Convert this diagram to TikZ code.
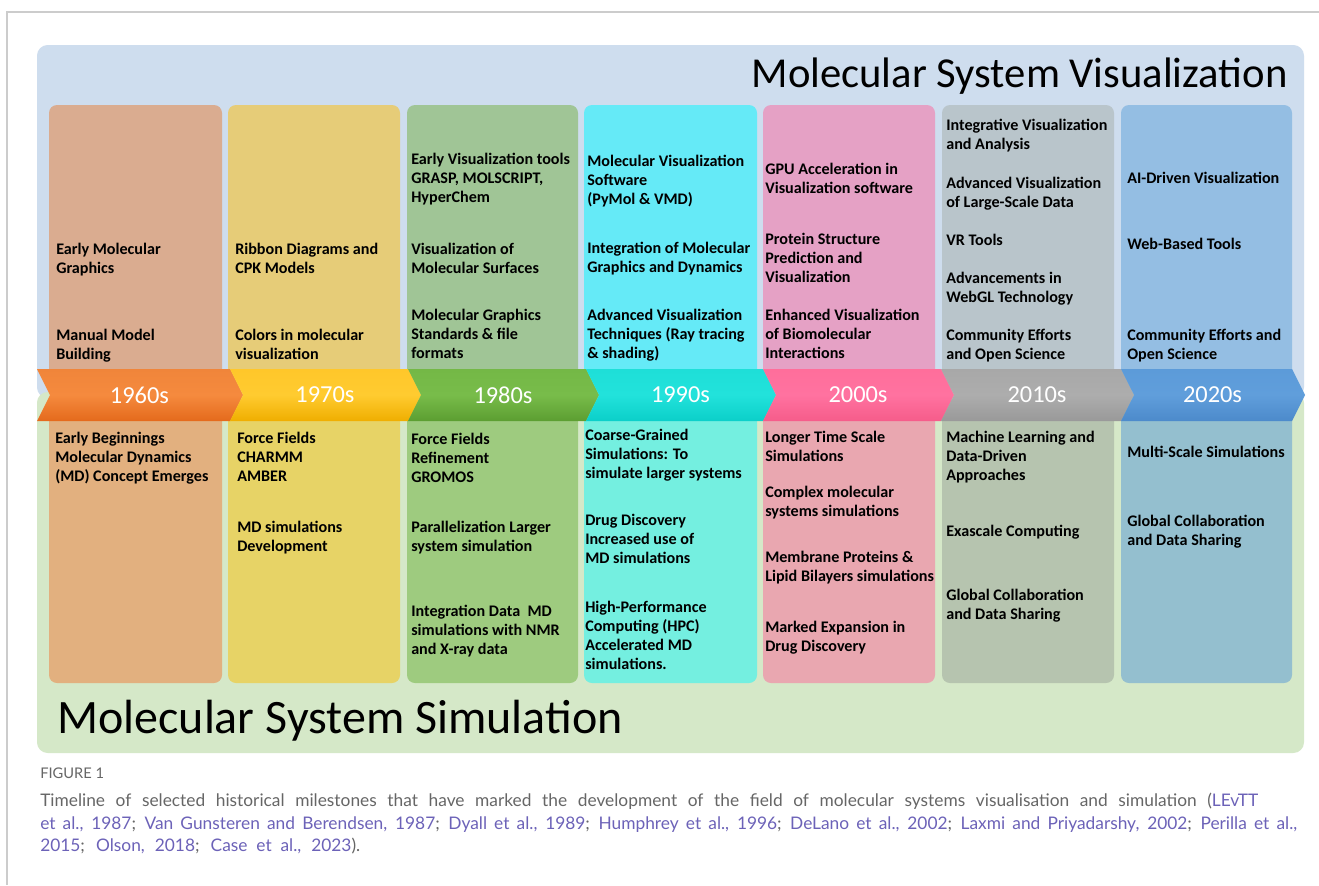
\documentclass[tikz,border=0pt]{standalone}
\usepackage{fontspec}
\setmainfont{Carlito}
\newfontfamily\capfont{Lato}
\definecolor{framecol}{HTML}{CCCCCC}
\definecolor{visbg}{HTML}{CEDDEE}
\definecolor{simbg}{HTML}{D5E8C8}
\definecolor{vA}{HTML}{DAAC90}
\definecolor{vB}{HTML}{E6CC78}
\definecolor{vC}{HTML}{A0C596}
\definecolor{vD}{HTML}{65EAF7}
\definecolor{vE}{HTML}{E5A1C5}
\definecolor{vF}{HTML}{B9C5CB}
\definecolor{vG}{HTML}{94BEE3}
\definecolor{sA}{HTML}{E2B07F}
\definecolor{sB}{HTML}{E7D366}
\definecolor{sC}{HTML}{9ECB7F}
\definecolor{sD}{HTML}{74EFE0}
\definecolor{sE}{HTML}{E9A7B0}
\definecolor{sF}{HTML}{B6C4AF}
\definecolor{sG}{HTML}{94BFCF}
\definecolor{capgray}{HTML}{666666}
\definecolor{caplink}{HTML}{6C62B8}
\newcommand\tx[4]{\node[txt] (#1) at (#2,#3) {#4};}
\newcommand\chev[6]{%
  \definecolor{chtop}{HTML}{#4}\definecolor{chmid}{HTML}{#5}\definecolor{chbot}{HTML}{#6}%
  \shade[top color=chtop, bottom color=chbot, middle color=chmid] (#1,369) -- (#2,369) -- (#2+13,395) -- (#2,421) -- (#1,421) -- (#1+13,395) -- cycle;
  \node[year] (y#3) at ({(#1+#2)/2+6},395) {#3};}
\begin{document}
\begin{tikzpicture}[x=0.75pt,y=-0.75pt,
  txt/.style={anchor=north west, inner sep=0pt, align=left, text=black,
    font=\bfseries\fontsize{12.1}{14.3}\selectfont},
  year/.style={text=white, inner sep=0pt, font=\fontsize{18.3}{20}\selectfont},
  vbox/.style={rounded corners=6pt},
  panel/.style={rounded corners=8pt},
  captxt/.style={anchor=base west, inner sep=0pt, font=\capfont\fontsize{13}{15}\selectfont}]
\useasboundingbox (0,0) rectangle (1319,885);
\fill[white] (0,0) rectangle (1319,885);
\draw[framecol, line width=1pt] (7,885) -- (7,12) -- (1319,12);
% panels
\fill[visbg, panel] (37,45) rectangle (1304,398);
\fill[simbg, panel] (37,392) rectangle (1304,753);
% top boxes
\fill[vA, vbox] (49,105) rectangle (222,390);
\fill[vB, vbox] (228,105) rectangle (400,390);
\fill[vC, vbox] (407,105) rectangle (578,390);
\fill[vD, vbox] (584,105) rectangle (757,390);
\fill[vE, vbox] (763,105) rectangle (935,390);
\fill[vF, vbox] (942,105) rectangle (1114,390);
\fill[vG, vbox] (1121,105) rectangle (1292,390);
% bottom boxes
\fill[sA, vbox] (49,400) rectangle (222,683);
\fill[sB, vbox] (228,400) rectangle (400,683);
\fill[sC, vbox] (407,400) rectangle (578,683);
\fill[sD, vbox] (584,400) rectangle (757,683);
\fill[sE, vbox] (763,400) rectangle (935,683);
\fill[sF, vbox] (942,400) rectangle (1114,683);
\fill[sG, vbox] (1121,400) rectangle (1292,683);
% chevrons
\chev{37}{230}{1960s}{F0853A}{F58A3E}{E46A1C}
\chev{230}{408}{1970s}{FFC72A}{FFCB30}{EFAE00}
\chev{408}{586}{1980s}{74B846}{78BC4A}{5C9E31}
\chev{586}{763}{1990s}{1EDFD8}{22E2DB}{0BCFC9}
\chev{763}{941}{2000s}{FF6E9B}{FF72A0}{F65C8A}
\chev{941}{1121}{2010s}{A8A8A8}{ADADAD}{999999}
\chev{1121}{1292}{2020s}{5C9BD9}{609EDB}{4C8ACB}
% titles
\node[anchor=base east, inner sep=0pt, font=\fontsize{32}{36}\selectfont] (vistitle) at (1288,87) {Molecular System Visualization};
\node[anchor=base west, inner sep=0pt, font=\fontsize{36}{40}\selectfont] (simtitle) at (57,733) {Molecular System Simulation};
% top texts
\tx{t1a}{56}{243}{Early Molecular\\Graphics}
\tx{t1b}{56}{329}{Manual Model\\Building}
\tx{t2a}{235}{243}{Ribbon Diagrams and\\CPK Models}
\tx{t2b}{235}{329}{Colors in molecular\\visualization}
\tx{t3a}{411}{153}{Early Visualization tools\\GRASP, MOLSCRIPT,\\HyperChem}
\tx{t3b}{411}{243}{Visualization of\\Molecular Surfaces}
\tx{t3c}{411}{309}{Molecular Graphics\\Standards \& file\\formats}
\tx{t4a}{587}{155}{Molecular Visualization\\Software\\(PyMol \& VMD)}
\tx{t4b}{587}{242}{Integration of Molecular\\Graphics and Dynamics}
\tx{t4c}{587}{309}{Advanced Visualization\\Techniques (Ray tracing\\\& shading)}
\tx{t5a}{765}{163}{GPU Acceleration in\\Visualization software}
\tx{t5b}{765}{233}{Protein Structure\\Prediction and\\Visualization}
\tx{t5c}{765}{309}{Enhanced Visualization\\of Biomolecular\\Interactions}
\tx{t6a}{946}{119}{Integrative Visualization\\and Analysis}
\tx{t6b}{946}{177}{Advanced Visualization\\of Large-Scale Data}
\tx{t6c}{946}{234}{VR Tools}
\tx{t6d}{946}{272}{Advancements in\\WebGL Technology}
\tx{t6e}{946}{329}{Community Efforts\\and Open Science}
\tx{t7a}{1127}{172}{AI-Driven Visualization}
\tx{t7b}{1127}{238}{Web-Based Tools}
\tx{t7c}{1127}{329}{Community Efforts and\\Open Science}
% bottom texts
\tx{b1a}{55}{432}{Early Beginnings\\Molecular Dynamics\\(MD) Concept Emerges}
\tx{b2a}{237}{432}{Force Fields\\CHARMM\\AMBER}
\tx{b2b}{237}{521}{MD simulations\\Development}
\tx{b3a}{411}{433}{Force Fields\\Refinement\\GROMOS}
\tx{b3b}{411}{521}{Parallelization Larger\\system simulation}
\tx{b3c}{411}{605}{Integration Data\ \ MD\\simulations with NMR\\and X-ray data}
\tx{b4a}{585}{429}{Coarse-Grained\\Simulations: To\\simulate larger systems}
\tx{b4b}{585}{514}{Drug Discovery\\Increased use of\\MD simulations}
\tx{b4c}{585}{601}{High-Performance\\Computing (HPC)\\Accelerated MD\\simulations.}
\tx{b5a}{765}{431}{Longer Time Scale\\Simulations}
\tx{b5b}{765}{486}{Complex molecular\\systems simulations}
\tx{b5c}{765}{551}{Membrane Proteins \&\\Lipid Bilayers simulations}
\tx{b5d}{765}{621}{Marked Expansion in\\Drug Discovery}
\tx{b6a}{946}{431}{Machine Learning and\\Data-Driven\\Approaches}
\tx{b6b}{946}{525}{Exascale Computing}
\tx{b6c}{946}{589}{Global Collaboration\\and Data Sharing}
\tx{b7a}{1127}{446}{Multi-Scale Simulations}
\tx{b7b}{1127}{515}{Global Collaboration\\and Data Sharing}
% caption
\node[anchor=base west, inner sep=0pt, text=capgray, font=\capfont\fontsize{11}{13}\selectfont] (fig) at (40,778) {FIGURE 1};
\node[captxt] (cap1) at (40,806)
 {\hbox to 913.5pt{\color{capgray}Timeline of selected historical milestones that have marked the development of the field of molecular systems visualisation and simulation (\color{caplink}LEvTT}};
\node[captxt] (cap2) at (40,829)
 {\hbox to 942.75pt{\color{caplink}et al., 1987\color{capgray}; \color{caplink}Van Gunsteren and Berendsen, 1987\color{capgray}; \color{caplink}Dyall et al., 1989\color{capgray}; \color{caplink}Humphrey et al., 1996\color{capgray}; \color{caplink}DeLano et al., 2002\color{capgray}; \color{caplink}Laxmi and Priyadarshy, 2002\color{capgray}; \color{caplink}Perilla et al.,}};
\node[captxt] (cap3) at (40,851)
 {\hbox to 240pt{\color{caplink}2015\color{capgray}; \color{caplink}Olson, 2018\color{capgray}; \color{caplink}Case et al., 2023\color{capgray}).}};
\end{tikzpicture}
\end{document}
